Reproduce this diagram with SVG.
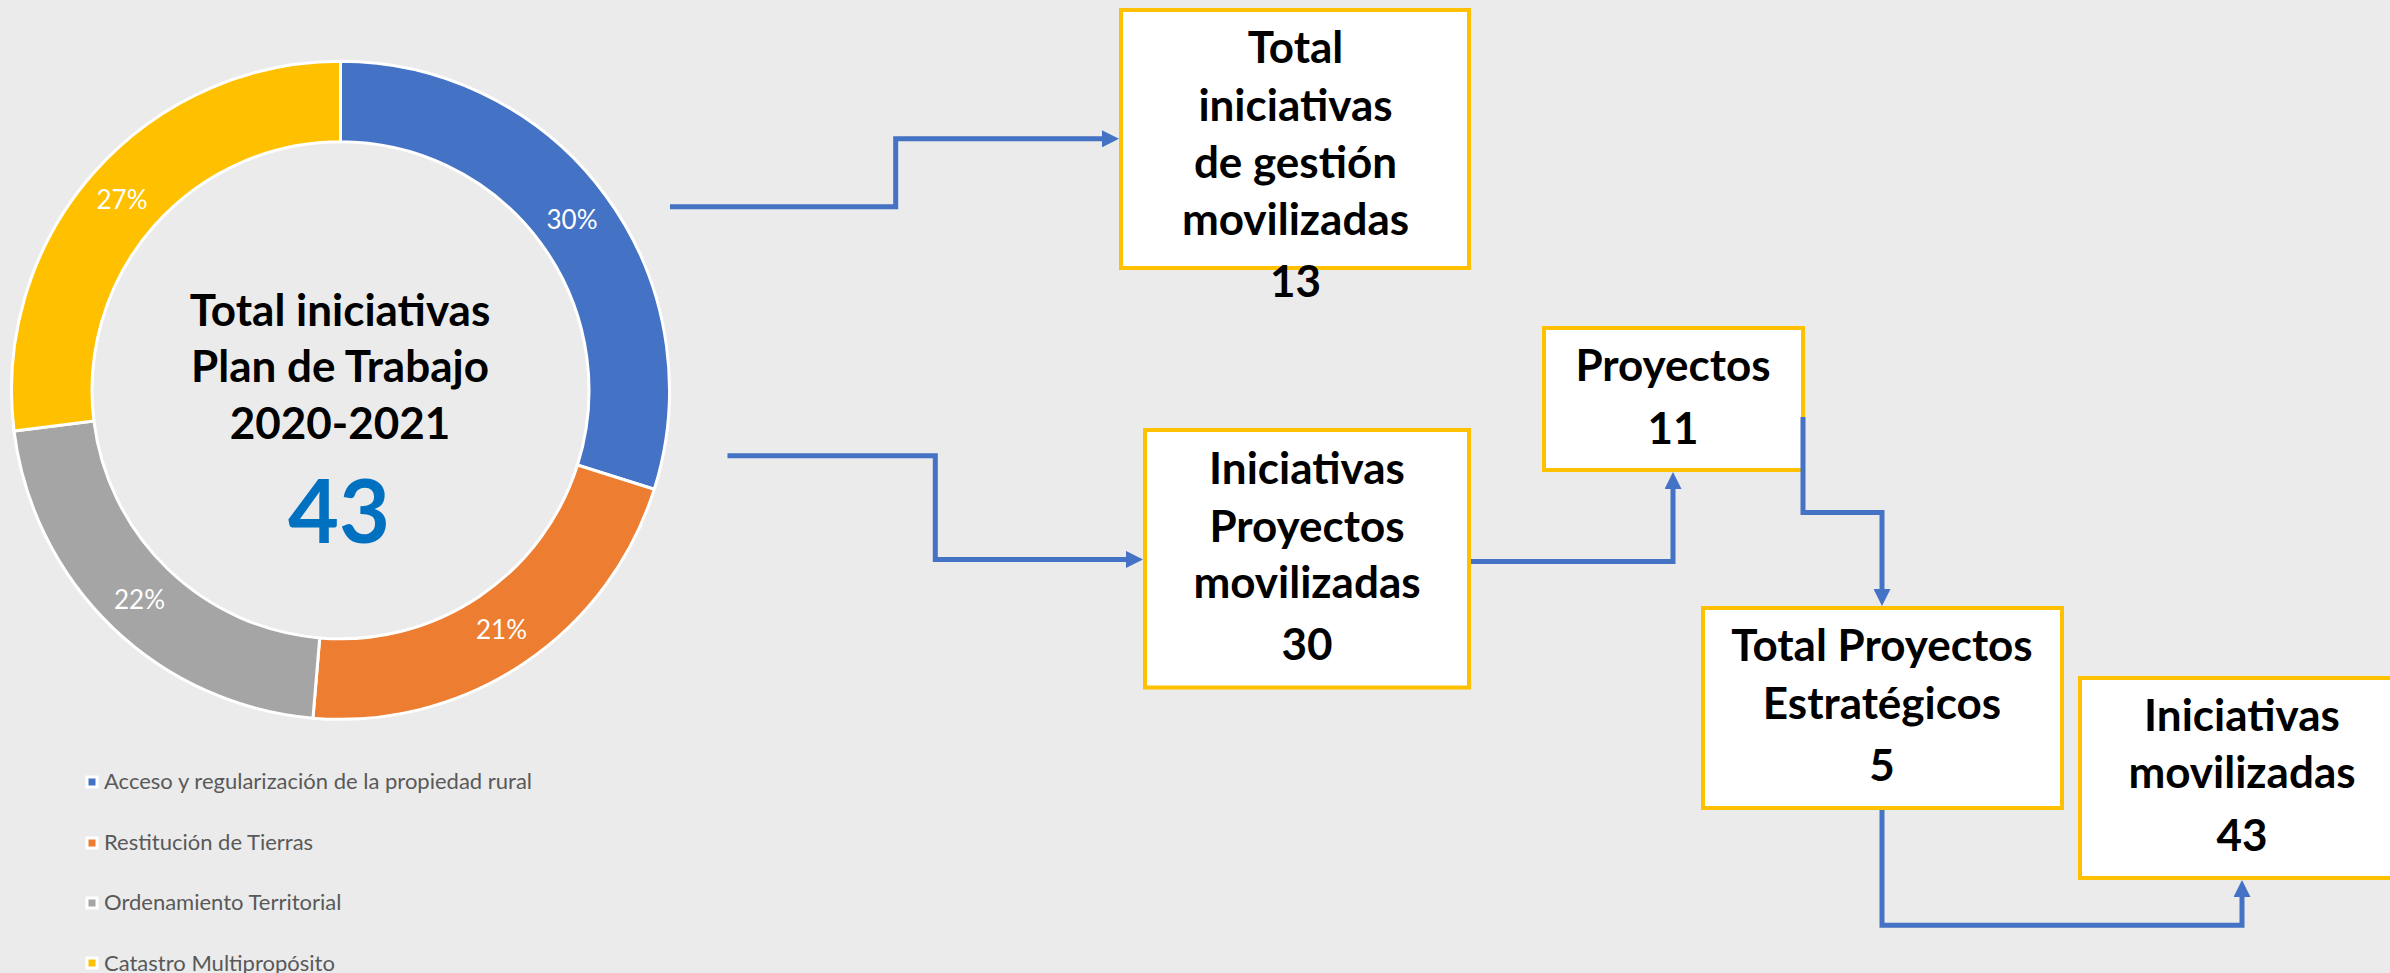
<svg xmlns="http://www.w3.org/2000/svg" width="2390" height="973" viewBox="0 0 2390 973">
<defs>
<style>
.bg{fill:#EBEBEB}
.slice{stroke:#FFFFFF;stroke-width:3;stroke-linejoin:miter}
.pct{font-family:Lato,"Noto Sans",sans-serif;font-size:26px;fill:#FFFFFF;text-anchor:middle}
.ctr{font-family:Lato,"Noto Sans",sans-serif;font-size:44px;font-weight:bold;fill:#000000;text-anchor:middle}
.big{font-family:Lato,"Noto Sans",sans-serif;font-size:88px;font-weight:bold;fill:#0070C0;text-anchor:middle}
.leg{font-family:Lato,"Noto Sans",sans-serif;font-size:22px;fill:#595959}
.sw{stroke:#FFFFFF;stroke-width:3}
.box{fill:#FFFFFF;stroke:#FFC000;stroke-width:4}
.bt{font-family:Lato,"Noto Sans",sans-serif;font-size:44px;font-weight:bold;fill:#000000;text-anchor:middle}
.conn{fill:none;stroke:#4472C4;stroke-width:5;stroke-linejoin:miter}
</style>
<marker id="arr" markerUnits="userSpaceOnUse" markerWidth="17" markerHeight="17" viewBox="0 0 17 17" refX="0" refY="8.5" orient="auto">
<path d="M0,0 L17,8.5 L0,17 Z" fill="#4472C4"/>
</marker>
</defs>
<rect class="bg" x="0" y="0" width="2390" height="973"/>

<g id="donut">
<path class="slice" fill="#4472C4" d="M340.5,61.3 A329,329 0 0 1 654.27,489.23 L577.5,465.03 A248.5,248.5 0 0 0 340.5,141.8 Z"/>
<path class="slice" fill="#ED7D31" d="M654.27,489.23 A329,329 0 0 1 312.97,718.15 L319.71,637.93 A248.5,248.5 0 0 0 577.5,465.03 Z"/>
<path class="slice" fill="#A5A5A5" d="M312.97,718.15 A329,329 0 0 1 14.02,430.96 L93.91,421.01 A248.5,248.5 0 0 0 319.71,637.93 Z"/>
<path class="slice" fill="#FFC000" d="M14.02,430.96 A329,329 0 0 1 340.5,61.3 L340.5,141.8 A248.5,248.5 0 0 0 93.91,421.01 Z"/>
<text class="pct" x="572" y="229">30%</text>
<text class="pct" x="501.5" y="639">21%</text>
<text class="pct" x="139.5" y="609">22%</text>
<text class="pct" x="122" y="209">27%</text>
<text class="ctr" x="340" y="325.5">Total iniciativas</text>
<text class="ctr" x="340" y="382">Plan de Trabajo</text>
<text class="ctr" x="340" y="438.7">2020-2021</text>
<text class="big" x="339" y="542.5">43</text>
</g>

<g id="legend">
<rect class="sw" x="87" y="777" width="10" height="10" fill="#4472C4"/>
<text class="leg" x="104" y="789">Acceso y regularización de la propiedad rural</text>
<rect class="sw" x="87" y="838" width="10" height="10" fill="#ED7D31"/>
<text class="leg" x="104" y="849.5">Restitución de Tierras</text>
<rect class="sw" x="87" y="898" width="10" height="10" fill="#A5A5A5"/>
<text class="leg" x="104" y="910">Ordenamiento Territorial</text>
<rect class="sw" x="87" y="958" width="10" height="10" fill="#FFC000"/>
<text class="leg" x="104" y="970.5">Catastro Multipropósito</text>
</g>

<g id="connectors">
<path class="conn" d="M670,206.7 H895.7 V138.8 H1102" marker-end="url(#arr)"/>
<path class="conn" d="M727.5,455.8 H935.3 V559.4 H1126" marker-end="url(#arr)"/>
<path class="conn" d="M1471,561.5 H1673 V489" marker-end="url(#arr)"/>
<path class="conn" d="M1882,810 V925.3 H2242 V897" marker-end="url(#arr)"/>
</g>

<g id="node-gestion">
<rect class="box" x="1121" y="10" width="348" height="258"/>
<text class="bt" x="1295.5" y="63.4">Total</text>
<text class="bt" x="1295.5" y="121.4">iniciativas</text>
<text class="bt" x="1295.5" y="177.7">de gestión</text>
<text class="bt" x="1295.5" y="235">movilizadas</text>
<text class="bt" x="1295.5" y="297">13</text>
</g>

<g id="node-proyectos-movilizadas">
<rect class="box" x="1145" y="430" width="324" height="257.5"/>
<text class="bt" x="1307" y="483.5">Iniciativas</text>
<text class="bt" x="1307" y="541.5">Proyectos</text>
<text class="bt" x="1307" y="598">movilizadas</text>
<text class="bt" x="1307" y="660">30</text>
</g>

<g id="node-proyectos">
<rect class="box" x="1544" y="328" width="259" height="142"/>
<text class="bt" x="1673" y="380.7">Proyectos</text>
<text class="bt" x="1673" y="443.8">11</text>
</g>

<g id="node-estrategicos">
<rect class="box" x="1703" y="608" width="359" height="200"/>
<text class="bt" x="1882" y="660.5">Total Proyectos</text>
<text class="bt" x="1882" y="718.5">Estratégicos</text>
<text class="bt" x="1882" y="780.7">5</text>
</g>

<g id="node-iniciativas-movilizadas">
<rect class="box" x="2080" y="678" width="324" height="200"/>
<text class="bt" x="2242" y="730.5">Iniciativas</text>
<text class="bt" x="2242" y="788.4">movilizadas</text>
<text class="bt" x="2242" y="850.6">43</text>
</g>

<g id="connector-overlay">
<path class="conn" d="M1803,417 V512.5 H1882 V589" marker-end="url(#arr)"/>
</g>
</svg>
